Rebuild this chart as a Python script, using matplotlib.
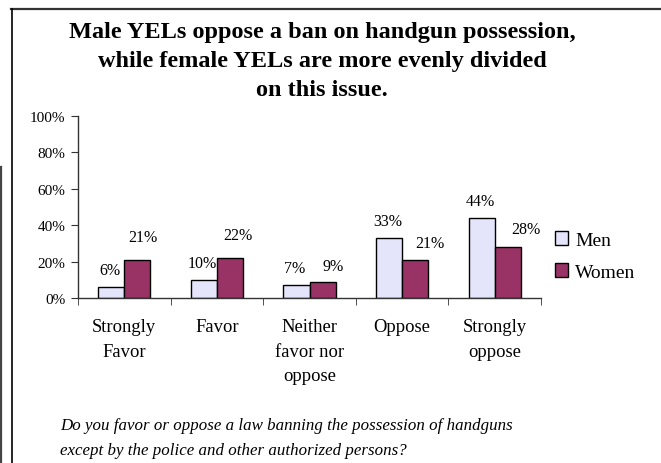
import matplotlib
matplotlib.use("Agg")
import matplotlib.pyplot as plt
from matplotlib.lines import Line2D
from matplotlib.patches import Patch
import numpy as np

categories = ["Strongly\nFavor", "Favor", "Neither\nfavor nor\noppose", "Oppose", "Strongly\noppose"]
men = [6, 10, 7, 33, 44]
women = [21, 22, 9, 21, 28]
yticks = [0, 20, 40, 60, 80, 100]
ytick_labels = ["0%", "20%", "40%", "60%", "80%", "100%"]
title = "Male YELs oppose a ban on handgun possession,\nwhile female YELs are more evenly divided\non this issue."
footnote = "Do you favor or oppose a law banning the possession of handguns\nexcept by the police and other authorized persons?"

# label placement offsets in pixels (style, not data)
men_dx, men_dy = -1.5, 17
women_dx = [6, 7.5, 11, 15, 18]
women_dy = [23, 23, 16, 17, 18]

plt.rcParams['font.family'] = ['Liberation Serif', 'DejaVu Serif']

W, H = 661, 464
fig = plt.figure(figsize=(W / 100, H / 100), dpi=100)
ax = fig.add_axes([78 / W, 1 - 299 / H, (541 - 78) / W, (299 - 117) / H])

x = np.arange(len(categories))
bw = 0.282
men_color = "#E4E4FA"
women_color = "#993366"
ax.bar(x - bw / 2, men, bw, color=men_color, edgecolor="black", linewidth=1.0)
ax.bar(x + bw / 2, women, bw, color=women_color, edgecolor="black", linewidth=1.0)

for xi, v in zip(x, men):
    ax.annotate(f"{v}%", (xi - bw / 2, v), xytext=(men_dx, men_dy), textcoords="offset pixels",
                ha="center", va="center", fontsize=11.5)
for xi, v, dx, dy in zip(x, women, women_dx, women_dy):
    ax.annotate(f"{v}%", (xi + bw / 2, v), xytext=(dx, dy), textcoords="offset pixels",
                ha="center", va="center", fontsize=11.5)

ax.set_xlim(-0.5, len(categories) - 0.5)
ax.set_ylim(0, 100)
ax.set_yticks(yticks)
ax.set_yticklabels(ytick_labels, fontsize=11)
ax.set_xticks(x)
ax.set_xticklabels(categories, fontsize=13.4, linespacing=1.58, va="top")
ax.tick_params(axis="x", which="major", length=0, pad=14.5)
ax.set_xticks(np.arange(-0.5, len(categories)), minor=True)
ax.tick_params(axis="x", which="minor", length=5, direction="out", color="#333333")
ax.tick_params(axis="y", length=5, direction="out", color="#333333", pad=4)
for s in ["top", "right"]:
    ax.spines[s].set_visible(False)
for s in ["left", "bottom"]:
    ax.spines[s].set_color("#333333")
    ax.spines[s].set_linewidth(1.0)

handles = [Patch(facecolor=men_color, edgecolor="black", label="Men"),
           Patch(facecolor=women_color, edgecolor="black", label="Women")]
fig.legend(handles=handles, loc="center left", bbox_to_anchor=(547 / W, 1 - 257 / H),
           frameon=False, fontsize=14, handlelength=0.7, handleheight=0.7,
           handletextpad=0.35, labelspacing=0.72, borderaxespad=0)

fig.text(322 / W, 1 - 22 / H, title, ha="center", va="top", fontsize=17.5,
         fontweight="bold", linespacing=1.5)
fig.text(60 / W, 1 - 418 / H, footnote, ha="left", va="top", fontsize=12.2,
         style="italic", linespacing=1.75)

# frame lines
fig.add_artist(Line2D([11 / W, 1], [1 - 9.5 / H, 1 - 9.5 / H], color="#333333", lw=1.6))
fig.add_artist(Line2D([11.5 / W, 11.5 / W], [0, 1 - 9.5 / H], color="black", lw=1.2))
fig.add_artist(Line2D([1 / W, 1 / W], [0, 1 - 168 / H], color="#444444", lw=1.6))

fig.savefig("out.png", dpi=100)
